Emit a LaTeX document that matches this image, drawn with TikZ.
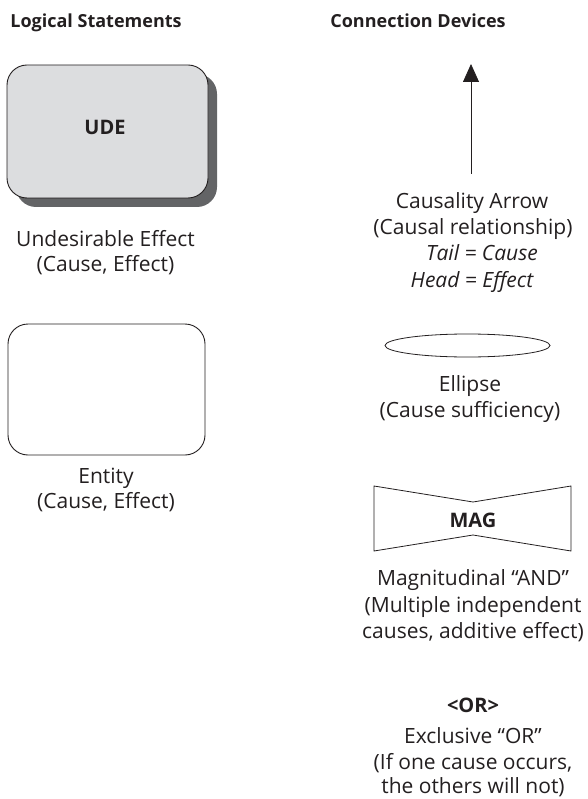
\documentclass[tikz,border=0pt]{standalone}
\usepackage{fontspec}
\setmainfont{Open Sans}
\usetikzlibrary{arrows.meta}
\definecolor{ink}{HTML}{231F20}
\definecolor{boxgray}{HTML}{DCDDDF}
\definecolor{shadowgray}{HTML}{636466}
\tikzset{
  lbl/.style={text=ink, font=\fontsize{21}{25}\selectfont, inner sep=0pt, anchor=base},
  head/.style={text=ink, font=\fontsize{18}{21}\selectfont\bfseries, inner sep=0pt, anchor=base},
  tag/.style={text=ink, font=\fontsize{20}{24}\selectfont\bfseries, inner sep=0pt, anchor=base},
  statebox/.style={draw=ink, line width=0.9pt, rounded corners=20pt},
  devline/.style={draw=ink, line width=0.8pt},
}
\begin{document}
\begin{tikzpicture}[x=1pt,y=-1pt]
\useasboundingbox (0,0) rectangle (587,799);

% column headings
\node[head] (hl) at (96,28) {Logical Statements};
\node[head] (hr) at (418,28) {Connection Devices};

% UDE box with drop shadow
\fill[shadowgray, rounded corners=20pt] (16,74) rectangle (217,207);
\path[statebox, fill=boxgray] (7,65) rectangle (208,198);
\node[tag] (ude) at (105,135) {UDE};
\node[lbl] (udel1) at (105.5,247) {Undesirable Effect};
\node[lbl] (udel2) at (105.5,272) {(Cause, Effect)};

% entity box
\path[statebox] (8,324) rectangle (205,455);
\node[lbl] (entl1) at (106,483) {Entity};
\node[lbl] (entl2) at (106,508) {(Cause, Effect)};

% causality arrow
\coordinate (tail) at (471,174);
\coordinate (tip) at (471,64);
\draw[devline, -{Triangle[length=18pt,width=16pt]}] (tail) -- (tip);
\node[lbl] (ca1) at (472,209) {Causality Arrow};
\node[lbl] (ca2) at (473,235) {(Causal relationship)};
\node[lbl] (ca3) at (482,261) {\itshape Tail = Cause};
\node[lbl] (ca4) at (472,287) {\itshape Head = Effect};

% ellipse
\draw[devline] (467.5,345.5) ellipse [x radius=82.5, y radius=11.5];
\node[lbl] (el1) at (470,391) {Ellipse};
\node[lbl] (el2) at (470,417) {(Cause sufficiency)};

% magnitudinal AND
\draw[devline, line join=miter] (374,486) -- (473,502) -- (571,486) -- (571,551) -- (473,535) -- (374,551) -- cycle;
\node[tag] (mag) at (473,527) {MAG};
\node[lbl] (mg1) at (473,585) {Magnitudinal “AND”};
\node[lbl] (mg2) at (473,612) {(Multiple independent};
\node[lbl] (mg3) at (473,638) {causes, additive effect)};

% exclusive OR
\node[tag] (xor) at (473,712) {<OR>};
\node[lbl] (or1) at (473,743) {Exclusive “OR”};
\node[lbl] (or2) at (473,769) {(If one cause occurs,};
\node[lbl] (or3) at (473,793) {the others will not)};
\end{tikzpicture}
\end{document}
